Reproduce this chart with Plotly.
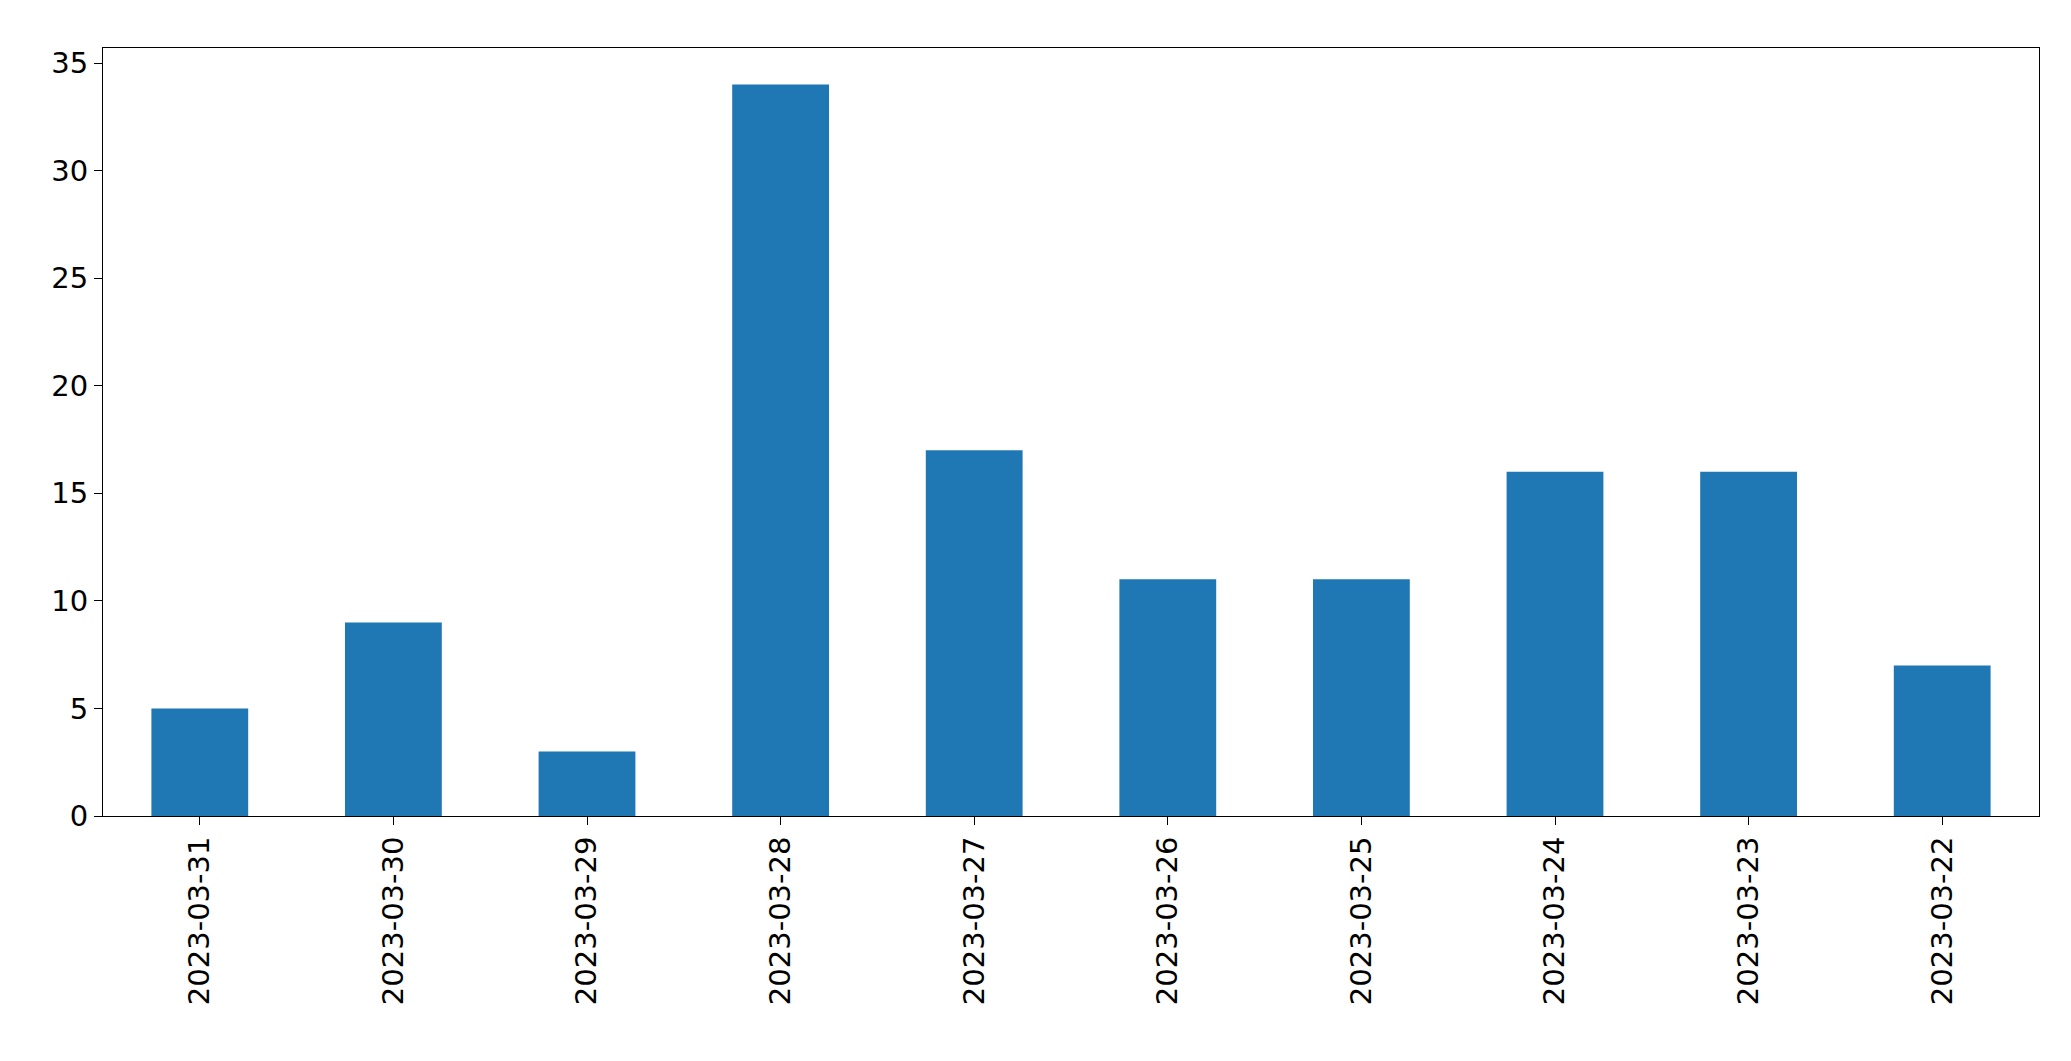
import plotly.graph_objects as go

dates = ["2023-03-31", "2023-03-30", "2023-03-29", "2023-03-28", "2023-03-27",
         "2023-03-26", "2023-03-25", "2023-03-24", "2023-03-23", "2023-03-22"]
counts = [5, 9, 3, 34, 17, 11, 11, 16, 16, 7]

fig = go.Figure(go.Bar(x=dates, y=counts, width=0.5, marker_color="#1f77b4",
                       marker_line_width=0))

axis_style = dict(showline=True, linecolor="black", linewidth=1, mirror=True,
                  ticks="outside", ticklen=8, tickcolor="black", showgrid=False,
                  zeroline=False, tickfont=dict(size=29, color="black"))

fig.update_xaxes(type="category", tickangle=-90, range=[-0.5, 9.5], **axis_style)
fig.update_yaxes(range=[0, 35.7], tickvals=[0, 5, 10, 15, 20, 25, 30, 35], **axis_style)

fig.update_layout(
    width=2071, height=1061,
    margin=dict(l=95, r=40, t=40, b=253),
    plot_bgcolor="white", paper_bgcolor="white",
    font=dict(family="DejaVu Sans"),
    showlegend=False,
)

fig.write_html("out.html")
